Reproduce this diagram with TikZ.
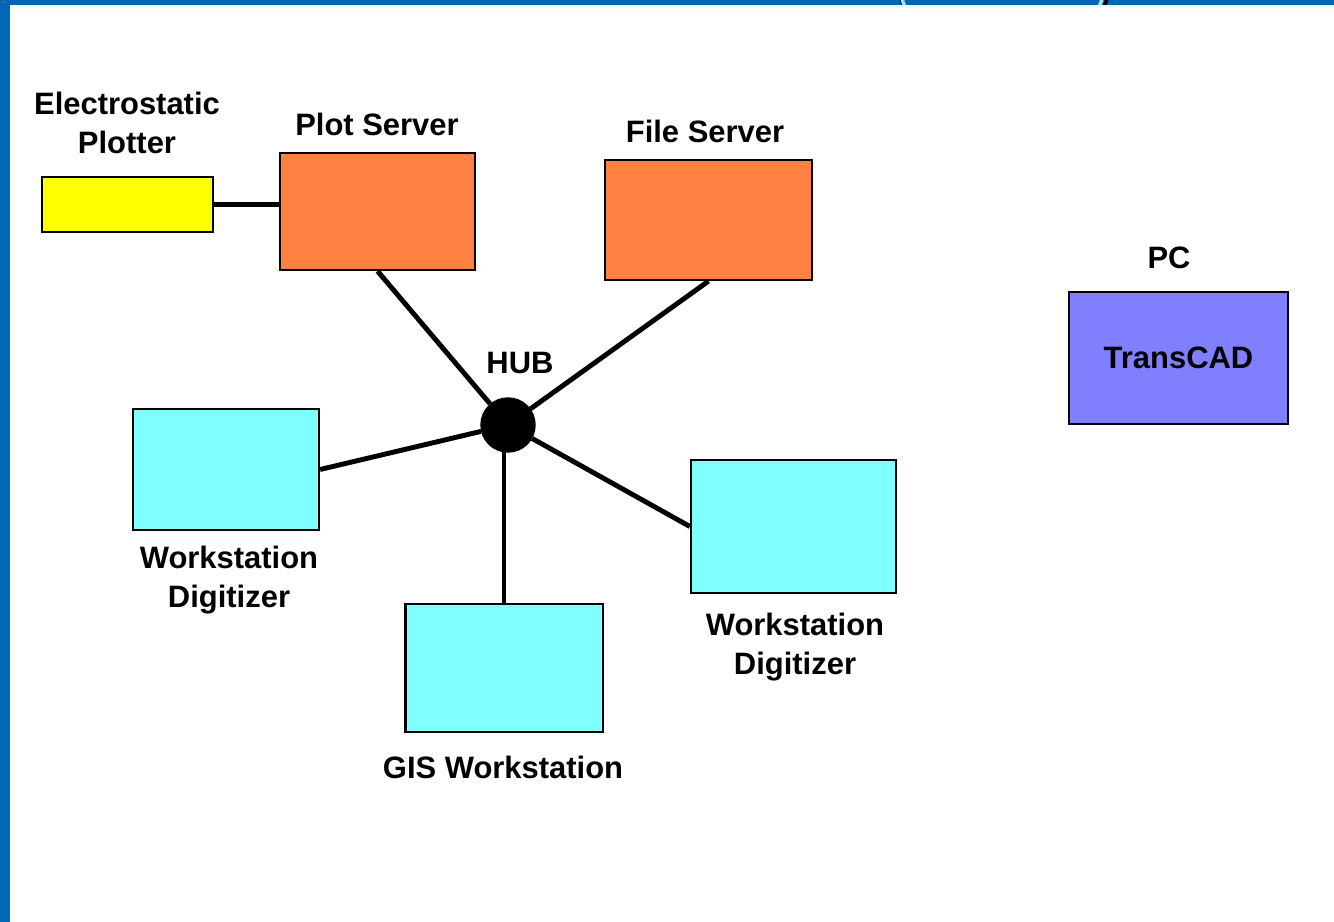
\documentclass[tikz,border=0pt]{standalone}
\usepackage{fontspec}
\setmainfont{Liberation Sans}
\usetikzlibrary{positioning}
\definecolor{frameblue}{HTML}{0068B4}
\definecolor{plotteryellow}{HTML}{FFFF00}
\definecolor{serverorange}{HTML}{FF8040}
\definecolor{stationcyan}{HTML}{80FFFF}
\definecolor{pcviolet}{HTML}{8080FF}
\definecolor{arcblue}{HTML}{A8DCF4}
\tikzset{
  box/.style={draw, line width=0.6pt, minimum width=#1},
  lbl/.style={font=\fontsize{8.8}{11}\selectfont\bfseries, align=center},
  wire/.style={line width=1.4pt}
}
\begin{document}
\begin{tikzpicture}[x=0.01cm, y=-0.01cm]
                \useasboundingbox (0,0) rectangle (1334,922);
                \fill[white] (0,0) rectangle (1334,922);
                \fill[frameblue] (0,0) rectangle (1334,5);
                \fill[frameblue] (0,0) rectangle (10,922);
                \begin{scope}
                    \clip (0,0) rectangle (1334,5);
                    \draw[black, line width=1pt] (1004,-10) ellipse [x radius=104, y radius=60];
                    \draw[arcblue, line width=1pt] (1002,-10) ellipse [x radius=101, y radius=60];
                \end{scope}

                \node[box=1.71cm, fill=plotteryellow, minimum height=0.55cm] (plotter) at (127.5,204.5) {};
                \node[box=1.95cm, fill=serverorange, minimum height=1.17cm] (plot) at (377.5,211.5) {};
                \node[box=2.07cm, fill=serverorange, minimum height=1.20cm] (file) at (708.5,220) {};
                \node[box=2.19cm, fill=pcviolet, minimum height=1.32cm, lbl] (pc) at (1178.5,358) {TransCAD};
                \node[draw, fill=black, circle, minimum size=0.54cm] (hub) at (508,425) {};
                \node[box=1.86cm, fill=stationcyan, minimum height=1.21cm] (wsleft) at (226,469.5) {};
                \node[box=1.97cm, fill=stationcyan, minimum height=1.28cm] (gis) at (504,668) {};
                \node[box=2.05cm, fill=stationcyan, minimum height=1.33cm] (wsright) at (793.5,526.5) {};

                \node[lbl] (plotterlbl) at (127,123) {Electrostatic\\Plotter};
                \node[lbl] (plotlbl) at (377,124) {Plot Server};
                \node[lbl] (filelbl) at (705,131) {File Server};
                \node[lbl] (pclbl) at (1169,258) {PC};
                \node[lbl] (hublbl) at (520,363) {HUB};
                \node[lbl] (wsleftlbl) at (229,580) {Workstation\\Digitizer};
                \node[lbl] (gislbl) at (503,767) {GIS Workstation};
                \node[lbl] (wsrightlbl) at (795,647) {Workstation\\Digitizer};

                \draw[wire] (plotter.east) -- (plotter.east -| plot.west);
                \draw[wire] (plot.south) -- (hub);
                \draw[wire] (file.south) -- (hub);
                \draw[wire] (wsleft.east) -- (hub);
                \draw[wire] (gis.north) -- (gis.north |- hub);
                \draw[wire] (wsright.west) -- (hub);
            \end{tikzpicture}
\end{document}
